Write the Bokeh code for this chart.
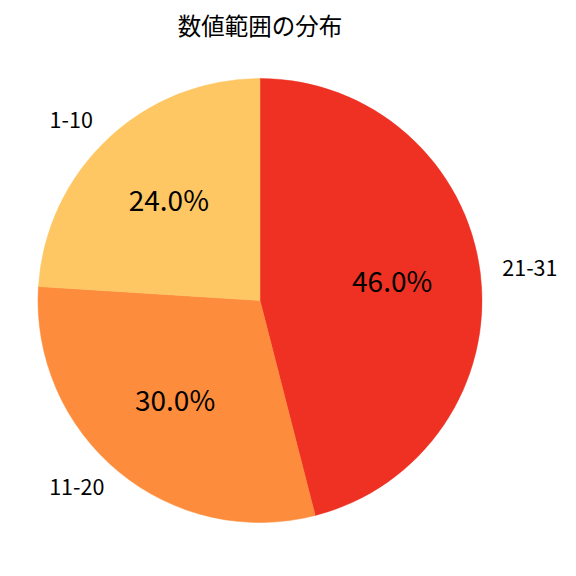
import math
from bokeh.plotting import figure
from bokeh.models import Range1d, ColumnDataSource
from bokeh.core.properties import value
from bokeh.embed import file_html
from bokeh.resources import INLINE

title = "数値範囲の分布"
categories = ["21-31", "11-20", "1-10"]
values = [46.0, 30.0, 24.0]
colors = ["#EE3123", "#FD8C3C", "#FEC763"]

FONT = "Noto Sans CJK JP"
W = H = 560
cx, cy, r = 259.5, 260.0, 222.0

p = figure(width=W, height=H, output_backend="svg", toolbar_location=None,
           x_range=Range1d(0, W), y_range=Range1d(0, H), min_border=0)
p.axis.visible = False
p.grid.visible = False
p.outline_line_color = None

total = sum(values)
starts, ends, mids = [], [], []
a = math.pi / 2
for v in values:
    span = 2 * math.pi * v / total
    starts.append(a - span)
    ends.append(a)
    mids.append(a - span / 2)
    a -= span

src = ColumnDataSource(dict(start=starts, end=ends, color=colors))
p.wedge(x=cx, y=cy, radius=r, start_angle="start", end_angle="end",
        fill_color="color", line_color="color", line_width=0.5, source=src)

# category labels at 1.1 r
lx = [cx + 1.1 * r * math.cos(m) for m in mids]
ly = [cy + 1.1 * r * math.sin(m) for m in mids]
for x, y, t, m in zip(lx, ly, categories, mids):
    p.text(x=[x], y=[y], text=[t], text_font=value(FONT), text_font_size="21.5px",
           text_align="left" if math.cos(m) > 0 else "right",
           text_baseline="middle", text_color="black", y_offset=-2)

# percentage labels at 0.6 r
px = [cx + 0.6 * r * math.cos(m) for m in mids]
py = [cy + 0.6 * r * math.sin(m) for m in mids]
pct = [f"{v / total * 100:.1f}%" for v in values]
p.text(x=px, y=py, text=pct, text_font=value(FONT), text_font_size="28px",
       text_align="center", text_baseline="middle", text_color="black", y_offset=-4)

p.text(x=[cx], y=[H - 24], text=[title], text_font=value(FONT), text_font_size="23.5px",
       text_align="center", text_baseline="middle", text_color="black")

open("out.html", "w").write(file_html(p, INLINE))
